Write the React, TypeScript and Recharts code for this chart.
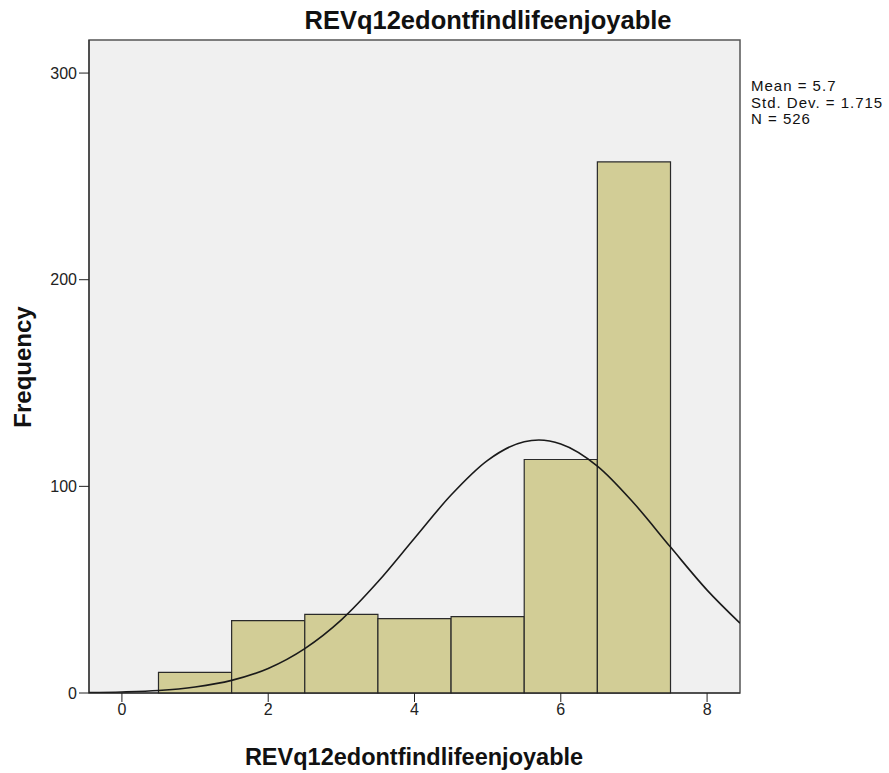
import React from 'react'
import {
  ComposedChart, Line, XAxis, YAxis, ReferenceArea,
} from 'recharts'

// histogram bins (width 1)
const binCenters = [1, 2, 3, 4, 5, 6, 7]
const binCounts = [10, 35, 38, 36, 37, 113, 257]

// normal curve
const curveX = [-0.45, 0, 0.5, 1, 1.5, 2, 2.5, 3, 3.5, 4, 4.5, 5, 5.5, 5.7, 6, 6.5, 7, 7.5, 8, 8.45]
const curveY = [0.2, 0.5, 1.2, 2.9, 6.1, 11.9, 21.5, 35.4, 53.8, 74.9, 95.8, 112.6, 121.6, 122.4, 120.5, 109.8, 91.8, 70.6, 49.8, 33.8]

const xTicks = [0, 2, 4, 6, 8]
const yTicks = [0, 100, 200, 300]
const xDomain = [-0.45, 8.45]
const yDomain = [0, 316]
const statLines = ['Mean = 5.7', 'Std. Dev. = 1.715', 'N = 526']
const varName = 'REVq12edontfindlifeenjoyable'

const curveData = curveX.map((x, i) => ({ x, curve: curveY[i] }))

const FONT = '"Liberation Sans", Arial, sans-serif'
const TICK = { fontSize: 16, fontFamily: FONT, fill: '#222' }

export default function App() {
  return (
    <div style={{ position: 'absolute', left: 0, top: 0, width: 889, height: 773, background: '#fff', fontFamily: FONT }}>
      <div style={{ position: 'absolute', left: 0, width: 976, top: 8, lineHeight: 1, textAlign: 'center', fontSize: 25.5, fontWeight: 700, color: '#111' }}>
        {varName}
      </div>

      <ComposedChart
        width={889} height={773} data={curveData}
        margin={{ top: 40, right: 149, left: 29, bottom: 40 }}
      >
        <XAxis
          dataKey="x" type="number" domain={xDomain} allowDataOverflow
          ticks={xTicks} interval={0}
          axisLine={{ stroke: '#222' }} tickLine={{ stroke: '#222' }} tickSize={9}
          tick={TICK} height={40}
        />
        <YAxis
          type="number" domain={yDomain} allowDataOverflow
          ticks={yTicks} interval={0}
          axisLine={{ stroke: '#222' }} tickLine={{ stroke: '#222' }} tickSize={10}
          tick={TICK} width={60}
        />
        <ReferenceArea
          x1={xDomain[0]} x2={xDomain[1]} y1={yDomain[0]} y2={yDomain[1]}
          fill="#f0f0f0" fillOpacity={1} stroke="#555" strokeWidth={1.5}
        />
        {binCenters.map((c, i) => (
          <ReferenceArea
            key={c} x1={c - 0.5} x2={c + 0.5} y1={0} y2={binCounts[i]}
            fill="#d2cd96" fillOpacity={1} stroke="#2a2a2a" strokeWidth={1.2}
          />
        ))}
        <Line
          type="monotone" dataKey="curve" stroke="#1a1a1a" strokeWidth={1.6}
          dot={false} activeDot={false} isAnimationActive={false}
        />
      </ComposedChart>

      <div style={{ position: 'absolute', left: 751, top: 78, fontSize: 15, letterSpacing: 1, lineHeight: '16.5px', color: '#111' }}>
        {statLines.map(s => <div key={s}>{s}</div>)}
      </div>

      <div style={{ position: 'absolute', left: 0, width: 828, top: 746, lineHeight: 1, textAlign: 'center', fontSize: 23.5, fontWeight: 700, color: '#111' }}>
        {varName}
      </div>

      <div style={{
        position: 'absolute', left: 23, top: 367, transform: 'translate(-50%, -50%) rotate(-90deg)',
        fontSize: 24, lineHeight: 1, fontWeight: 700, color: '#111', whiteSpace: 'nowrap',
      }}>
        Frequency
      </div>
    </div>
  )
}
